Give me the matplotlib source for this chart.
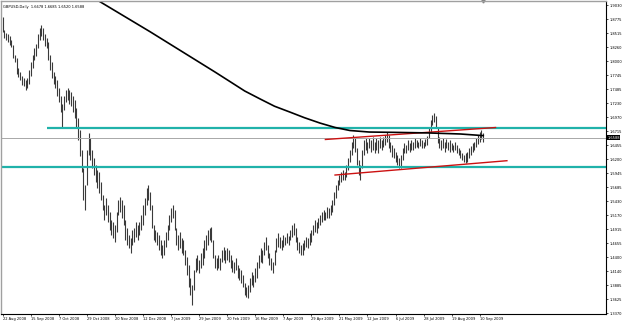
import matplotlib
matplotlib.use("Agg")
import numpy as np
import matplotlib.pyplot as plt
from matplotlib.transforms import blended_transform_factory

# GBPUSD daily, 22 Aug 2008 .. 14 Sep 2009 (bar index = trading day)
header = "GBPUSD,Daily  1.6678 1.6685 1.6520 1.6588"
last_price = 1.6588

highs = [
    1.881, 1.857, 1.852, 1.850, 1.846, 1.839, 1.830, 1.811, 1.806, 1.787,
    1.780, 1.773, 1.769, 1.765, 1.769, 1.784, 1.798, 1.811, 1.824, 1.831,
    1.850, 1.861, 1.866, 1.861, 1.850, 1.842, 1.835, 1.811, 1.798, 1.780,
    1.773, 1.765, 1.751, 1.736, 1.721, 1.736, 1.747, 1.751, 1.747, 1.743,
    1.736, 1.728, 1.714, 1.695, 1.673, 1.637, 1.604, 1.572, 1.637, 1.668,
    1.659, 1.637, 1.622, 1.609, 1.600, 1.596, 1.578, 1.554, 1.535, 1.548,
    1.535, 1.522, 1.508, 1.504, 1.499, 1.522, 1.545, 1.550, 1.545, 1.535,
    1.508, 1.493, 1.480, 1.475, 1.490, 1.493, 1.504, 1.499, 1.504, 1.517,
    1.535, 1.548, 1.567, 1.572, 1.559, 1.535, 1.499, 1.490, 1.486, 1.480,
    1.471, 1.462, 1.471, 1.486, 1.499, 1.517, 1.530, 1.535, 1.526, 1.493,
    1.480, 1.486, 1.475, 1.471, 1.453, 1.440, 1.425, 1.401, 1.388, 1.416,
    1.438, 1.444, 1.434, 1.447, 1.456, 1.471, 1.480, 1.490, 1.493, 1.495,
    1.471, 1.444, 1.438, 1.444, 1.438, 1.453, 1.458, 1.453, 1.456, 1.453,
    1.444, 1.434, 1.431, 1.438, 1.425, 1.420, 1.416, 1.407, 1.392, 1.385,
    1.388, 1.401, 1.412, 1.407, 1.420, 1.431, 1.444, 1.456, 1.453, 1.467,
    1.477, 1.462, 1.447, 1.438, 1.431, 1.453, 1.475, 1.484, 1.477, 1.471,
    1.480, 1.477, 1.484, 1.478, 1.490, 1.499, 1.503, 1.493, 1.477, 1.467,
    1.462, 1.465, 1.471, 1.477, 1.475, 1.484, 1.490, 1.499, 1.508, 1.504,
    1.512, 1.517, 1.522, 1.526, 1.522, 1.532, 1.530, 1.535, 1.545, 1.559,
    1.572, 1.581, 1.591, 1.596, 1.600, 1.596, 1.609, 1.622, 1.637, 1.651,
    1.664, 1.659, 1.640, 1.618, 1.609, 1.637, 1.655, 1.659, 1.651, 1.659,
    1.655, 1.660, 1.651, 1.659, 1.655, 1.660, 1.655, 1.660, 1.664, 1.670,
    1.664, 1.651, 1.646, 1.640, 1.633, 1.627, 1.622, 1.627, 1.640, 1.649,
    1.646, 1.655, 1.649, 1.655, 1.651, 1.659, 1.655, 1.651, 1.659, 1.655,
    1.651, 1.657, 1.662, 1.677, 1.692, 1.701, 1.705, 1.699, 1.679, 1.660,
    1.655, 1.659, 1.651, 1.657, 1.651, 1.655, 1.649, 1.646, 1.651, 1.646,
    1.640, 1.637, 1.631, 1.627, 1.631, 1.633, 1.640, 1.644, 1.649, 1.651,
    1.659, 1.664, 1.670, 1.673, 1.6685,
]
lows = [
    1.853, 1.842, 1.839, 1.835, 1.830, 1.826, 1.806, 1.798, 1.776, 1.771,
    1.765, 1.756, 1.754, 1.747, 1.751, 1.758, 1.773, 1.787, 1.802, 1.809,
    1.824, 1.839, 1.846, 1.839, 1.828, 1.824, 1.802, 1.784, 1.769, 1.758,
    1.751, 1.736, 1.725, 1.706, 1.679, 1.710, 1.725, 1.728, 1.721, 1.717,
    1.706, 1.695, 1.677, 1.655, 1.626, 1.596, 1.545, 1.526, 1.572, 1.627,
    1.618, 1.604, 1.591, 1.578, 1.567, 1.558, 1.545, 1.526, 1.508, 1.517,
    1.504, 1.490, 1.480, 1.475, 1.467, 1.486, 1.517, 1.522, 1.512, 1.499,
    1.471, 1.462, 1.456, 1.447, 1.462, 1.467, 1.477, 1.471, 1.480, 1.490,
    1.499, 1.517, 1.536, 1.545, 1.526, 1.493, 1.471, 1.467, 1.462, 1.453,
    1.444, 1.438, 1.444, 1.458, 1.471, 1.490, 1.504, 1.512, 1.490, 1.462,
    1.453, 1.456, 1.447, 1.444, 1.425, 1.407, 1.385, 1.370, 1.352, 1.379,
    1.412, 1.416, 1.410, 1.420, 1.425, 1.438, 1.453, 1.462, 1.471, 1.467,
    1.438, 1.420, 1.416, 1.420, 1.416, 1.431, 1.434, 1.429, 1.434, 1.431,
    1.420, 1.412, 1.410, 1.416, 1.401, 1.397, 1.392, 1.385, 1.370, 1.366,
    1.365, 1.376, 1.388, 1.385, 1.394, 1.401, 1.420, 1.431, 1.429, 1.444,
    1.453, 1.438, 1.425, 1.416, 1.410, 1.425, 1.449, 1.458, 1.456, 1.453,
    1.458, 1.462, 1.466, 1.462, 1.471, 1.477, 1.480, 1.467, 1.453, 1.447,
    1.444, 1.444, 1.453, 1.458, 1.456, 1.462, 1.467, 1.480, 1.486, 1.484,
    1.493, 1.499, 1.504, 1.508, 1.508, 1.512, 1.512, 1.517, 1.522, 1.535,
    1.548, 1.563, 1.572, 1.578, 1.581, 1.581, 1.587, 1.600, 1.615, 1.627,
    1.640, 1.633, 1.609, 1.591, 1.581, 1.604, 1.627, 1.637, 1.631, 1.640,
    1.633, 1.637, 1.631, 1.637, 1.631, 1.640, 1.637, 1.642, 1.646, 1.651,
    1.640, 1.633, 1.624, 1.622, 1.615, 1.609, 1.604, 1.604, 1.618, 1.631,
    1.631, 1.637, 1.633, 1.637, 1.637, 1.640, 1.642, 1.640, 1.644, 1.640,
    1.640, 1.644, 1.646, 1.659, 1.670, 1.683, 1.688, 1.677, 1.649, 1.640,
    1.637, 1.640, 1.633, 1.640, 1.637, 1.633, 1.637, 1.633, 1.637, 1.631,
    1.627, 1.622, 1.618, 1.614, 1.613, 1.615, 1.622, 1.627, 1.633, 1.637,
    1.642, 1.647, 1.651, 1.657, 1.652,
]

# moving average (black curve), read at a few bars
ma_bars = [55, 84, 113, 121, 130, 138, 147, 155, 164, 172, 181, 189.5, 198, 209, 223, 242, 261, 274]
ma_prices = [1.910, 1.854, 1.796, 1.780, 1.7615, 1.745, 1.730, 1.717, 1.706, 1.696,
             1.686, 1.678, 1.6724, 1.6696, 1.669, 1.668, 1.666, 1.663]

# drawn objects
teal_upper = 1.6770
teal_upper_start = 25
teal_lower = 1.6059
red_upper_bars = [184, 281]
red_upper_prices = [1.6559, 1.6779]
red_lower_bars = [189.5, 287.5]
red_lower_prices = [1.5906, 1.6169]

date_labels = ["22 Aug 2008", "15 Sep 2008", "7 Oct 2008", "29 Oct 2008", "20 Nov 2008",
               "12 Dec 2008", "7 Jan 2009", "29 Jan 2009", "20 Feb 2009", "16 Mar 2009",
               "7 Apr 2009", "29 Apr 2009", "21 May 2009", "12 Jun 2009", "6 Jul 2009",
               "28 Jul 2009", "19 Aug 2009", "10 Sep 2009"]
price_labels = ["1.3370", "1.3625", "1.3885", "1.4140", "1.4400", "1.4655", "1.4915", "1.5170",
                "1.5430", "1.5685", "1.5945", "1.6200", "1.6455", "1.6715", "1.6970", "1.7230",
                "1.7485", "1.7745", "1.8000", "1.8260", "1.8515", "1.8775", "1.9030"]

n = min(len(highs), len(lows))
fs = 2.6

fig = plt.figure(figsize=(6.25, 3.23), dpi=100)
ax = fig.add_axes([1 / 625, 9 / 323, 605 / 625, 313 / 323])
ax.set_xlim(-0.97, 344.0)
ax.set_ylim(1.3352, 1.9104)

ax.vlines(np.arange(n), lows[:n], highs[:n], color="#3a3a3a", lw=0.8)

x0, x1 = ax.get_xlim()
ax.hlines(last_price, x0, x1, color="#a8a8a8", lw=0.7)
ax.hlines(teal_lower, x0, x1, color="#20b2aa", lw=1.6)
ax.hlines(teal_upper, teal_upper_start, x1, color="#20b2aa", lw=1.6)
ax.plot(red_upper_bars, red_upper_prices, color="#cc1111", lw=1.0)
ax.plot(red_lower_bars, red_lower_prices, color="#cc1111", lw=1.0)
ax.plot(ma_bars, ma_prices, color="black", lw=1.2)

# chart shift marker
ax.plot(n - 1, 1.9104, marker="v", ms=2.2, color="#808080", clip_on=False)

ax.text(0.004, 0.988, header, transform=ax.transAxes, fontsize=fs, va="top", ha="left")

# axes like the terminal
for side in ["left", "top"]:
    ax.spines[side].set_color("#a0a0a0")
    ax.spines[side].set_linewidth(1.0)
for side in ["right", "bottom"]:
    ax.spines[side].set_color("black")
    ax.spines[side].set_linewidth(0.8)

ax.yaxis.tick_right()
ax.set_yticks(np.linspace(1.3370, 1.9030, len(price_labels)), price_labels)
ax.tick_params(axis="y", direction="out", length=1.5, width=0.5, pad=0.8, labelsize=fs)
ax.set_xticks(np.arange(len(date_labels)) * 16, date_labels)
ax.tick_params(axis="x", direction="out", length=1.5, width=0.5, pad=0.8, labelsize=fs)
for lbl in ax.get_xticklabels():
    lbl.set_ha("left")

tr = blended_transform_factory(ax.transAxes, ax.transData)
ax.text(1.002, last_price, "1.6588", transform=tr, fontsize=fs, color="white",
        va="center", ha="left",
        bbox=dict(facecolor="black", edgecolor="none", pad=0.4))

fig.savefig("out.png", dpi=100)
